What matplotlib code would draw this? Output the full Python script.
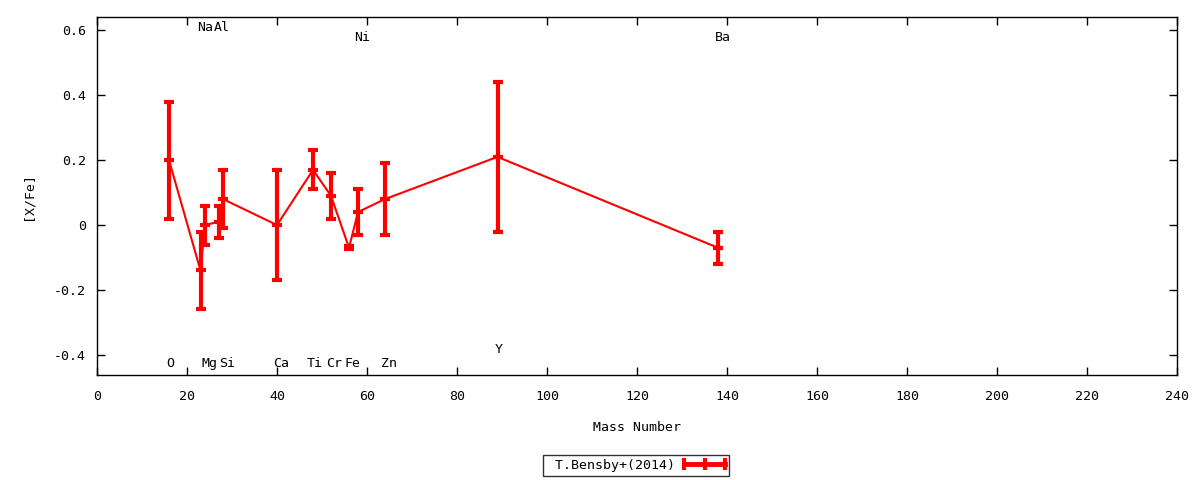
import matplotlib
matplotlib.use("Agg")
import matplotlib.pyplot as plt
from matplotlib.lines import Line2D
from matplotlib.legend_handler import HandlerLine2D

plt.rcParams['font.family'] = ['DejaVu Sans Mono', 'DejaVu Sans']
plt.rcParams['font.size'] = 9.5

# data
elements = ["O", "Na", "Mg", "Al", "Si", "Ca", "Ti", "Cr", "Fe", "Ni", "Zn", "Y", "Ba"]
mass = [16, 23, 24, 27, 28, 40, 48, 52, 56, 58, 64, 89, 138]
xfe = [0.20, -0.14, 0.00, 0.01, 0.08, 0.00, 0.17, 0.09, -0.07, 0.04, 0.08, 0.21, -0.07]
err = [0.18, 0.12, 0.06, 0.05, 0.09, 0.17, 0.06, 0.07, 0.005, 0.07, 0.11, 0.23, 0.05]

# element label positions
label_x = [16.2, 24.0, 25.0, 27.7, 28.9, 41.0, 48.4, 52.7, 56.8, 59.0, 65.0, 89.3, 139.1]
label_y = [-0.426, 0.608, -0.426, 0.608, -0.426, -0.426, -0.426, -0.426, -0.426, 0.577, -0.426, -0.383, 0.577]

series_label = "T.Bensby+(2014)"
xticks = list(range(0, 241, 20))
yticks = [-0.4, -0.2, 0, 0.2, 0.4, 0.6]
ytick_labels = ["-0.4", "-0.2", "0", "0.2", "0.4", "0.6"]

fig = plt.figure(figsize=(12, 4.8), dpi=100)
ax = fig.add_axes([97/1200, 105/480, 1080/1200, 358/480])

red = "#ff0000"
ax.plot(mass, xfe, color=red, lw=1.5, zorder=3)
ax.errorbar(mass, xfe, yerr=err, fmt='none', ecolor=red, elinewidth=3,
            capsize=3.3, capthick=3, zorder=3)
ax.plot(mass, xfe, linestyle='none', marker='_', markersize=7, mew=3, color=red, zorder=4)

for el, lx, ly in zip(elements, label_x, label_y):
    ax.text(lx, ly, el, ha='center', va='center', color='black')

ax.set_xlim(0, 240)
ax.set_ylim(-0.462, 0.641)
ax.set_xticks(xticks)
ax.set_xticklabels([str(t) for t in xticks])
ax.set_yticks(yticks)
ax.set_yticklabels(ytick_labels)
ax.tick_params(direction='in', top=True, right=True, length=6, width=1, pad=8)
ax.tick_params(axis='x', pad=11)
for s in ax.spines.values():
    s.set_linewidth(1)

ax.set_xlabel("Mass Number", labelpad=13)
ax.set_ylabel("[X/Fe]", labelpad=14)

proxy = Line2D([], [], color=red, lw=3.5, marker='|', markersize=9, mew=3)
leg = fig.legend([proxy], [" " + series_label], loc='center', bbox_to_anchor=(0.53, 0.031),
                 markerfirst=False, frameon=True, fancybox=False,
                 handler_map={proxy: HandlerLine2D(numpoints=3, marker_pad=0.0)},
                 handlelength=3.1, borderpad=0.3, handletextpad=0.7, borderaxespad=0)
leg.get_frame().set_edgecolor('black')
leg.get_frame().set_linewidth(1)

fig.savefig("out.png", dpi=100)
